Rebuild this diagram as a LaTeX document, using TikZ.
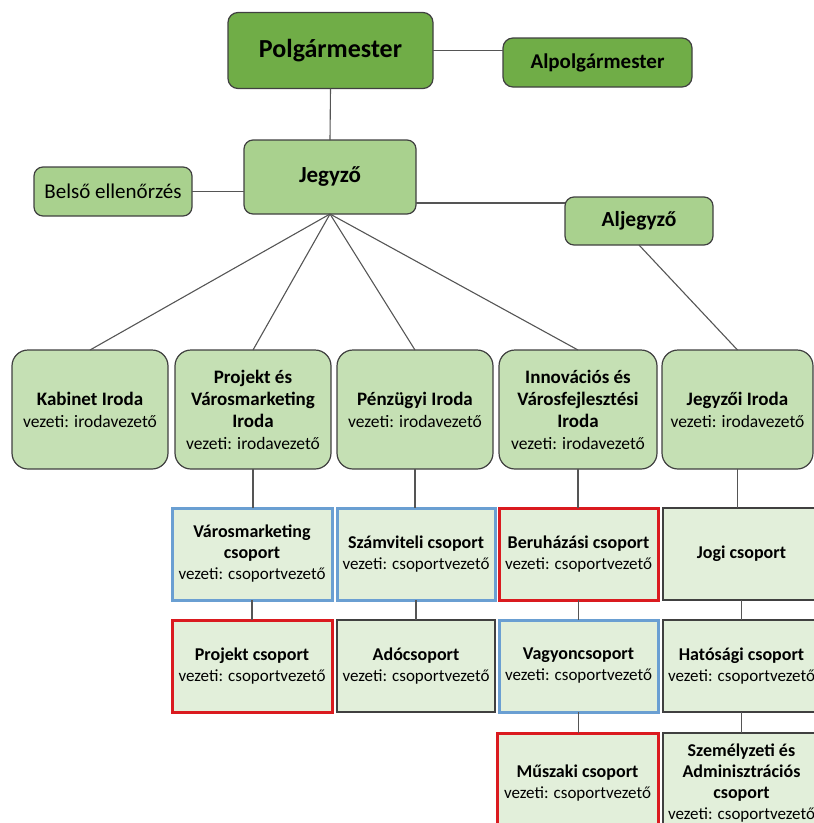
\documentclass[tikz,border=0pt]{standalone}
\usepackage{fontspec}
\setmainfont{Carlito}
\definecolor{dkgreen}{HTML}{70AD47}
\definecolor{midgreen}{HTML}{A9D18E}
\definecolor{offgreen}{HTML}{C5E0B4}
\definecolor{grpgreen}{HTML}{E2EFDA}
\definecolor{edgegray}{HTML}{404040}
\definecolor{linegray}{HTML}{555555}
\definecolor{blueedge}{HTML}{6A9FD2}
\definecolor{rededge}{HTML}{DA1A1F}
\newcommand{\fsz}[2]{\fontsize{#1}{#2}\selectfont}
\newcommand{\offsub}[1]{{\mdseries\fsz{17.5}{21}#1}}
\newcommand{\grpsub}[1]{{\mdseries\fsz{17}{21}#1}}
\begin{document}
\begin{tikzpicture}[x=1pt,y=-1pt,
  base/.style={draw=edgegray, line width=1.2pt, align=center, inner sep=0pt, outer sep=0pt, text=black},
  topbox/.style={base, rounded corners=10pt, fill=dkgreen, font=\bfseries},
  midbox/.style={base, rounded corners=9pt, fill=midgreen},
  office/.style={base, rounded corners=16pt, fill=offgreen, minimum width=156pt, minimum height=119pt, font=\bfseries\fsz{19}{22}},
  grp/.style={base, fill=grpgreen, minimum height=92pt, font=\bfseries\fsz{18}{21}},
  bluegrp/.style={grp, draw=blueedge, line width=3pt},
  redgrp/.style={grp, draw=rededge, line width=3pt},
  conn/.style={draw=linegray, line width=1.1pt}
]
\useasboundingbox (0,0) rectangle (814,823);
\clip (0,0) rectangle (814,823);

% top level
\node[topbox, minimum width=205pt, minimum height=76pt, font=\bfseries\fsz{26}{30}] (pm) at (330.5,50.5) {Polgármester};
\node[topbox, minimum width=189pt, minimum height=49pt, font=\bfseries\fsz{21}{25}] (apm) at (597.5,62.5) {Alpolgármester};
\node[midbox, minimum width=172pt, minimum height=74pt, font=\bfseries\fsz{23}{27}] (jegyzo) at (330,177) {Jegyző};
\node[midbox, minimum width=158pt, minimum height=49pt, font=\fsz{21}{25}] (belso) at (113,191.5) {Belső ellenőrzés};
\node[midbox, minimum width=148pt, minimum height=48pt, font=\bfseries\fsz{21.5}{25}] (aljegyzo) at (639,221) {Aljegyző};

% offices
\node[office] (kabinet) at (90,409.5) {Kabinet Iroda\\\offsub{vezeti: irodavezető}};
\node[office] (projekt) at (253,409.5) {Projekt és\\Városmarketing\\Iroda\\\offsub{vezeti: irodavezető}};
\node[office] (penzugy) at (415,409.5) {Pénzügyi Iroda\\\offsub{vezeti: irodavezető}};
\node[office, minimum width=158pt] (innov) at (578,409.5) {Innovációs és\\Városfejlesztési\\Iroda\\\offsub{vezeti: irodavezető}};
\node[office, minimum width=151pt] (jegyzoi) at (737.5,409.5) {Jegyzői Iroda\\\offsub{vezeti: irodavezető}};

% groups row 1
\node[bluegrp, minimum width=160pt] (varosm) at (252,554) {Városmarketing\\csoport\\\grpsub{vezeti: csoportvezető}};
\node[bluegrp, minimum width=158pt] (szamv) at (416,554) {Számviteli csoport\\\grpsub{vezeti: csoportvezető}};
\node[redgrp, minimum width=159pt] (beruh) at (578.5,554) {Beruházási csoport\\\grpsub{vezeti: csoportvezető}};
\node[grp, minimum width=157pt] (jogi) at (741.5,554) {Jogi csoport};

% groups row 2
\node[redgrp, minimum width=160pt] (projcs) at (252,666) {Projekt csoport\\\grpsub{vezeti: csoportvezető}};
\node[grp, minimum width=158pt] (ado) at (416,666) {Adócsoport\\\grpsub{vezeti: csoportvezető}};
\node[bluegrp, minimum width=159pt] (vagyon) at (578.5,666) {Vagyoncsoport\\\grpsub{vezeti: csoportvezető}};
\node[grp, minimum width=157pt] (hatos) at (741.5,666) {Hatósági csoport\\\grpsub{vezeti: csoportvezető}};

% groups row 3
\node[redgrp, minimum width=161pt, minimum height=100pt] (muszaki) at (577.5,783) {Műszaki csoport\\\grpsub{vezeti: csoportvezető}};
\node[grp, minimum width=157pt, minimum height=100pt] (szemely) at (741.5,783) {Személyzeti és\\Adminisztrációs\\csoport\\\grpsub{vezeti: csoportvezető}};

% connectors
\draw[conn] (pm.south) -- (jegyzo.north);
\draw[conn] (pm.east) -- (pm.east -| apm.west);
\draw[conn] (belso.east) -- (belso.east -| jegyzo.west);
\draw[conn] ([yshift=-6pt]aljegyzo.north west) -- ([yshift=-6pt]aljegyzo.north west -| jegyzo.east);
\foreach \o in {kabinet,projekt,penzugy,innov} \draw[conn] (jegyzo.south) -- (\o.north);
\draw[conn] (aljegyzo.south) -- (jegyzoi.north);
\draw[conn] (projekt.south) -- (projekt.south |- varosm.north);
\draw[conn] (penzugy.south) -- (penzugy.south |- szamv.north);
\draw[conn] (innov.south) -- (innov.south |- beruh.north);
\draw[conn] (jegyzoi.south) -- (jegyzoi.south |- jogi.north);
\draw[conn] (varosm.south) -- (projcs.north);
\draw[conn] (szamv.south) -- (ado.north);
\draw[conn] (beruh.south) -- (vagyon.north);
\draw[conn] (jogi.south) -- (hatos.north);
\draw[conn] (vagyon.south) -- (vagyon.south |- muszaki.north);
\draw[conn] (hatos.south) -- (szemely.north);
\end{tikzpicture}
\end{document}
